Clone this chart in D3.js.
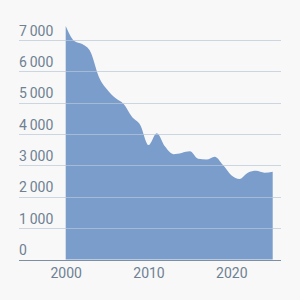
<!DOCTYPE html>
<meta charset="utf-8">
<style>
body { margin: 0; background: #f8f8f8; }
svg { display: block; background: #f8f8f8; }
.tick text { font: 14px Roboto, sans-serif; fill: #6e8193; }
</style>
<svg width="300" height="300" id="chart"></svg>
<script src="https://cdnjs.cloudflare.com/ajax/libs/d3/7.8.5/d3.min.js"></script>
<script>

var years = d3.range(2000, 2026);
var values = [7450, 6980, 6870, 6620, 5830, 5420, 5150, 4960, 4550, 4290,
              3650, 4030, 3600, 3360, 3400, 3450, 3210, 3190, 3280, 3010,
              2690, 2570, 2770, 2830, 2770, 2800];
var yTicks = [0, 1000, 2000, 3000, 4000, 5000, 6000, 7000];
var xTicks = [2000, 2010, 2020];

var data = years.map(function(y, i) { return {year: y, value: values[i]}; });

var svg = d3.select("svg");

var x = d3.scaleLinear().domain([2000, 2025]).range([65.7, 272.7]);
var y = d3.scaleLinear().domain([0, 7000]).range([259.5, 40]);

var fmt = function(d) { return d3.format(",")(d).replace(",", "\u2009"); };

var area = d3.area()
    .x(function(d) { return x(d.year); })
    .y0(y(0))
    .y1(function(d) { return y(d.value); })
    .curve(d3.curveMonotoneX);

svg.append("path")
    .datum(data)
    .attr("fill", "#7b9dcb")
    .attr("d", area);

// grid lines with labels above
var grid = svg.append("g");
grid.selectAll("line")
    .data(yTicks.filter(function(d) { return d > 0; }))
    .enter().append("line")
    .attr("x1", 19).attr("x2", 281)
    .attr("y1", function(d) { return Math.round(y(d)) + 0.5; })
    .attr("y2", function(d) { return Math.round(y(d)) + 0.5; })
    .attr("stroke", "#b9c8d6")
    .attr("stroke-opacity", 0.7);

var yAxis = svg.append("g")
    .attr("transform", "translate(19,0)")
    .call(d3.axisRight(y).tickValues(yTicks).tickFormat(fmt).tickSize(0));
yAxis.select(".domain").remove();
yAxis.selectAll("text")
    .attr("x", 0)
    .attr("dy", -5)
    .attr("text-anchor", "start");

var xAxis = svg.append("g")
    .attr("transform", "translate(0," + (Math.round(y(0)) + 0.5) + ")")
    .call(d3.axisBottom(x).tickValues(xTicks).tickFormat(d3.format("d")).tickSize(0).tickPadding(8));
xAxis.select(".domain").remove();

svg.append("line")
    .attr("x1", 19).attr("x2", 281)
    .attr("y1", Math.round(y(0)) + 0.5).attr("y2", Math.round(y(0)) + 0.5)
    .attr("stroke", "#7d8fa0");

</script>
